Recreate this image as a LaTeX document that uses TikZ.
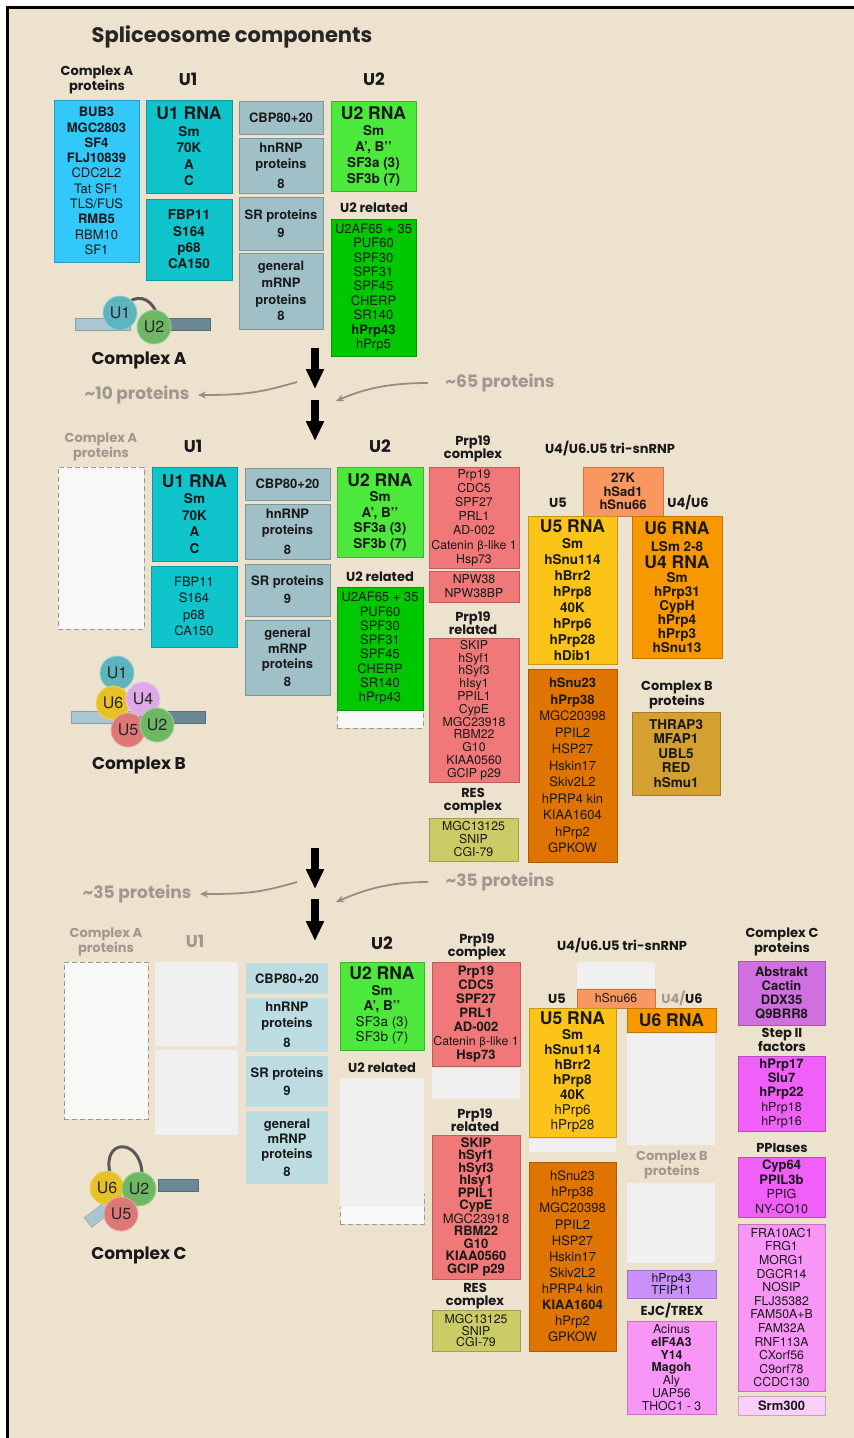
\documentclass[tikz,border=0pt]{standalone}
\usepackage{fontspec}
\setmainfont{TeX Gyre Heros}
\newfontfamily\hf{Poppins}
\newfontfamily\djv{DejaVu Sans}
\usetikzlibrary{arrows.meta}
\definecolor{cbg}{RGB}{236,226,206}
\definecolor{cblue}{RGB}{50,200,250}
\definecolor{cteal}{RGB}{16,196,204}
\definecolor{cgrey}{RGB}{160,192,200}
\definecolor{clblue}{RGB}{188,220,226}
\definecolor{cgreenl}{RGB}{76,232,60}
\definecolor{cgreen}{RGB}{0,200,0}
\definecolor{cred}{RGB}{240,120,120}
\definecolor{cres}{RGB}{204,204,102}
\definecolor{corl}{RGB}{248,152,96}
\definecolor{cu5}{RGB}{252,196,24}
\definecolor{cu6}{RGB}{248,152,0}
\definecolor{cu5r}{RGB}{224,116,0}
\definecolor{ccb}{RGB}{212,160,48}
\definecolor{ccc}{RGB}{208,112,224}
\definecolor{cmag}{RGB}{240,96,248}
\definecolor{cpink}{RGB}{248,150,248}
\definecolor{csrm}{RGB}{250,208,250}
\definecolor{clav}{RGB}{200,144,248}
\definecolor{cempty}{RGB}{240,240,240}
\definecolor{cdash}{RGB}{248,248,246}
\definecolor{cgtxt}{RGB}{160,152,144}
\definecolor{cgarr}{RGB}{150,142,132}
\definecolor{cbarl}{RGB}{170,198,210}
\definecolor{cbard}{RGB}{108,136,150}
\definecolor{cU1}{RGB}{94,180,190}
\definecolor{cU2}{RGB}{110,184,100}
\definecolor{cU4}{RGB}{220,170,232}
\definecolor{cU6}{RGB}{232,192,40}
\definecolor{cU5}{RGB}{222,120,120}
\newcommand\fs[2]{\fontsize{#1}{#2}\selectfont}
\newcommand\md[1]{{\mdseries #1}}
\newcommand\bx[7]{\node[#6, minimum width={#4pt-#2pt}, minimum height={#5pt-#3pt}] (#1) at ({(#2+#4)/2},{(#3+#5)/2}) {#7};}
\begin{document}
\begin{tikzpicture}[x=1pt,y=-1pt,
  bx/.style={draw=#1!78!black, fill=#1, line width=0.7pt, inner xsep=0pt, inner ysep=0pt, outer sep=0pt, align=center, text=black!90},
  bxn/.style={fill=#1, draw=none, inner sep=0pt, outer sep=0pt, align=center, text=black!90},
  dsh/.style={draw=black!40, dash pattern=on 5pt off 3pt, fill=cdash, line width=1pt, inner sep=0pt, outer sep=0pt},
  hd/.style={font=\hf\bfseries\fs{13}{13.5}, align=center, text=black!90},
  hdg/.style={hd, text=cgtxt},
  hdb/.style={font=\hf\bfseries\fs{17}{18}, text=black!90},
  lbl/.style={font=\hf\bfseries\fs{17}{18}, text=black!90},
  gt/.style={font=\hf\bfseries\fs{17}{18}, text=cgtxt},
  garr/.style={draw=cgarr, line width=1.8pt, -{Stealth[length=8pt,width=7pt]}},
  bigarr/.style={draw=black, line width=7.5pt, -{Triangle[length=20pt,width=17pt]}},
  barl/.style={fill=cbarl, draw=cbarl!80!black, line width=0.4pt, minimum height=12pt, inner sep=0pt, outer sep=0pt},
  bard/.style={fill=cbard, draw=cbard!80!black, line width=0.4pt, minimum height=12pt, inner sep=0pt, outer sep=0pt},
  ball/.style={circle, fill=#1, draw=#1!65!white, line width=0.8pt, minimum size=34pt, inner sep=0pt, font=\fs{16}{17}, text=black!85},
  rloop/.style={draw=black!65, line width=3pt}
]
\useasboundingbox (0,0) rectangle (854,1438);
\fill[white] (0,0) rectangle (854,1438);
\fill[cbg] (8,8) rectangle (854,1438);
\draw[line width=2.5pt] (854,7.5) -- (7.5,7.5) -- (7.5,1438);

% ---------------- Section A ----------------
\node[font=\hf\bfseries\fs{21}{22}, text=black!85] (title) at (232,37) {Spliceosome components};
\node[hd] (hA1) at (97,80) {Complex A\\proteins};
\node[hdb] (hU1a) at (188,79) {U1};
\node[hdb] (hU2a) at (374,79) {U2};

\bx{cA}{54}{100}{139}{262}{bx=cblue, font=\fs{13}{15.3}}{\textbf{BUB3}\\\textbf{MGC2803}\\\textbf{SF4}\\\textbf{FLJ10839}\\CDC2L2\\Tat SF1\\TLS/FUS\\\textbf{RMB5}\\RBM10\\SF1}
\bx{u1a}{146}{100}{232}{193}{bx=cteal, font=\bfseries\fs{13.5}{16.5}}{{\fs{17.5}{18}U1 RNA}\\Sm\\70K\\A\\C}
\bx{u1b}{146}{199}{232}{280}{bx=cteal, font=\bfseries\fs{13.5}{16.4}}{FBP11\\S164\\p68\\CA150}
\bx{cbpa}{239}{101}{323}{134}{bx=cgrey, font=\bfseries\fs{13}{14}}{CBP80+20}
\bx{hna}{239}{138}{323}{193}{bx=cgrey, font=\bfseries\fs{13}{16}}{hnRNP\\proteins\\[4pt]8}
\bx{sra}{239}{197}{323}{250}{bx=cgrey, font=\bfseries\fs{13}{18}}{SR proteins\\9}
\bx{gma}{239}{253}{323}{329}{bx=cgrey, font=\bfseries\fs{13}{16.7}}{general\\mRNP\\proteins\\8}
\bx{u2a}{331}{101}{416}{191}{bx=cgreenl, font=\bfseries\fs{13.5}{16}}{{\fs{17.5}{18}U2 RNA}\\Sm\\A', B'{}'\\SF3a (3)\\SF3b (7)}
\node[hd] (hU2ra) at (374,208) {U2 related};
\bx{u2ra}{331}{219}{416}{356}{bx=cgreen, font=\fs{13}{14.4}}{U2AF65 + 35\\PUF60\\SPF30\\SPF31\\SPF45\\CHERP\\SR140\\\textbf{hPrp43}\\hPrp5}

\node[barl, minimum width=55pt] (barA1) at (102.5,324) {};
\node[bard, minimum width=60pt] (barA2) at (180,324) {};
\draw[rloop] (125,305) .. controls (136,294) and (150,297) .. (156,312);
\node[ball=cU1] (bA1) at (120,313) {U1};
\node[ball=cU2] (bA2) at (154,327) {U2};
\node[lbl] (lA) at (139,360) {Complex A};

\coordinate (a1s) at (315,348); \coordinate (a1e) at (315,389);
\draw[bigarr] (a1s) -- (a1e);
\coordinate (a2s) at (315,400); \coordinate (a2e) at (315,441);
\draw[bigarr] (a2s) -- (a2e);

\node[gt] (p10) at (137,395) {\textasciitilde10 proteins};
\coordinate (g1s) at (297,382);
\draw[garr] (g1s) .. controls +(-35,10) and +(50,0) .. ([xshift=5pt]p10.east);
\node[gt] (p65) at (500,383) {\textasciitilde65 proteins};
\coordinate (g2e) at (336,401);
\draw[garr] ([xshift=-14pt]p65.west) .. controls +(-40,0) and +(28,-12) .. (g2e);

% ---------------- Section B ----------------
\node[hdg] (hA2) at (101,447) {Complex A\\proteins};
\node[hdb] (hU1b) at (193,446) {U1};
\node[hdb] (hU2b) at (380,446) {U2};
\node[hd] (hP19b) at (473,449) {Prp19\\complex};
\node[hd] (hTrib) at (610,449) {U4/U6.U5 tri-snRNP};
\node[hd] (hU5b) at (558,503) {U5};
\node[hd] (hU46b) at (688,503) {U4/U6};

\node[dsh, minimum width=86pt, minimum height=162pt] (dA2) at (101,548) {};
\bx{u1c}{152}{467}{237}{561}{bx=cteal, font=\bfseries\fs{13.5}{16.6}}{{\fs{17.5}{18}U1 RNA}\\Sm\\70K\\A\\C}
\bx{u1d}{151}{566}{237}{647}{bx=cteal, font=\fs{13}{16.4}}{FBP11\\S164\\p68\\CA150}
\bx{cbpb}{245}{468}{330}{500}{bx=cgrey, font=\bfseries\fs{13}{14}}{CBP80+20}
\bx{hnb}{245}{504}{330}{559}{bx=cgrey, font=\bfseries\fs{13}{16}}{hnRNP\\proteins\\[4pt]8}
\bx{srb}{245}{564}{330}{616}{bx=cgrey, font=\bfseries\fs{13}{18}}{SR proteins\\9}
\bx{gmb}{245}{620}{330}{695}{bx=cgrey, font=\bfseries\fs{13}{15.5}}{general\\mRNP\\proteins\\[2.5pt]8}
\bx{u2c}{337}{467}{423}{557}{bx=cgreenl, font=\bfseries\fs{13.5}{15.5}}{{\fs{17.5}{18}U2 RNA}\\Sm\\A', B'{}'\\SF3a (3)\\SF3b (7)}
\node[hd] (hU2rb) at (380,577) {U2 related};
\node[dsh, minimum width=86pt, minimum height=28pt] (du2rb) at (380,714) {};
\bx{u2rb}{337}{587}{423}{710}{bx=cgreen, font=\fs{13}{14.3}}{U2AF65 + 35\\PUF60\\SPF30\\SPF31\\SPF45\\CHERP\\SR140\\hPrp43}

\bx{p19b}{429}{467}{519}{568}{bx=cred, font=\fs{12.3}{14.2}}{Prp19\\CDC5\\SPF27\\PRL1\\AD-002\\Catenin {\djv\fs{11}{12}β}-like 1\\Hsp73}
\bx{npwb}{429}{571}{519}{602}{bx=cred, font=\fs{12.3}{14}}{NPW38\\NPW38BP}
\node[hd] (hP19rb) at (473,623) {Prp19\\related};
\bx{p19rb}{429}{638}{519}{782}{bx=cred, font=\fs{12.3}{12.8}}{SKIP\\hSyf1\\hSyf3\\hIsy1\\PPIL1\\CypE\\MGC23918\\RBM22\\G10\\KIAA0560\\GCIP p29}
\node[hd] (hRESb) at (473,801) {RES\\complex};
\bx{resb}{429}{818}{518}{861}{bx=cres, font=\fs{12.3}{13}}{MGC13125\\SNIP\\CGI-79}

\bx{k27b}{583}{467}{663}{516}{bx=corl, font=\bfseries\fs{13}{13.5}}{27K\\hSad1\\hSnu66}
\bx{u5b}{528}{516}{617}{664}{bx=cu5, font=\bfseries\fs{13.5}{16}}{{\fs{17.5}{18}U5 RNA}\\Sm\\hSnu114\\hBrr2\\hPrp8\\40K\\hPrp6\\hPrp28\\hDib1}
\bx{u6b}{632}{516}{722}{658}{bx=cu6, font=\bfseries\fs{13.5}{14}}{{\fs{17.5}{18}U6 RNA}\\[3pt]LSm 2-8\\[3pt]{\fs{17.5}{18}U4 RNA}\\Sm\\hPrp31\\CypH\\hPrp4\\hPrp3\\hSnu13}
\bx{u5rb}{528}{669}{617}{862}{bx=cu5r, font=\fs{13}{16.5}}{\textbf{hSnu23}\\\textbf{hPrp38}\\MGC20398\\PPIL2\\HSP27\\Hskin17\\Skiv2L2\\hPRP4 kin\\KIAA1604\\hPrp2\\GPKOW}
\node[hd] (hCBb) at (677,695) {Complex B\\proteins};
\bx{cbb}{632}{712}{720}{795}{bx=ccb, font=\bfseries\fs{13.5}{14.5}}{THRAP3\\MFAP1\\UBL5\\RED\\hSmu1}

\node[barl, minimum width=62pt] (barB1) at (102,717) {};
\node[bard, minimum width=70pt] (barB2) at (170,717) {};
\node[ball=cU1] (bB1) at (117,673) {U1};
\node[ball=cU6] (bB6) at (113,703) {U6};
\node[ball=cU4] (bB4) at (143,699) {U4};
\node[ball=cU5] (bB5) at (128,730) {U5};
\node[ball=cU2] (bB2) at (157,725) {U2};
\node[lbl] (lB) at (139,765) {Complex B};

\coordinate (a3s) at (315,848); \coordinate (a3e) at (315,889);
\draw[bigarr] (a3s) -- (a3e);
\coordinate (a4s) at (315,899); \coordinate (a4e) at (315,941);
\draw[bigarr] (a4s) -- (a4e);
\node[gt] (p35a) at (137,894) {\textasciitilde35 proteins};
\coordinate (g3s) at (297,882);
\draw[garr] (g3s) .. controls +(-35,10) and +(50,0) .. ([xshift=5pt]p35a.east);
\node[gt] (p35b) at (500,882) {\textasciitilde35 proteins};
\coordinate (g4e) at (336,902);
\draw[garr] ([xshift=-14pt]p35b.west) .. controls +(-40,0) and +(28,-12) .. (g4e);

% ---------------- Section C ----------------
\node[hdg] (hA3) at (106,942) {Complex A\\proteins};
\node[hdb, text=cgtxt] (hU1c) at (195,941) {U1};
\node[hdb] (hU2c) at (382,943) {U2};
\node[hd] (hP19c) at (477,947) {Prp19\\complex};
\node[hd] (hTric) at (622,946) {U4/U6.U5 tri-snRNP};
\node[hd] (hU5c) at (557,999) {U5};
\node[hd] (hU46c) at (682,999) {{\color{cgtxt}U4/}U6};
\node[hd] (hCCc) at (782,942) {Complex C\\proteins};

\node[dsh, minimum width=84pt, minimum height=157pt] (dA3) at (106,1040.5) {};
\bx{e1}{155}{962}{238}{1046}{bxn=cempty}{}
\bx{e2}{155}{1050}{238}{1135}{bxn=cempty}{}
\bx{cbpc}{246}{963}{328}{994}{bxn=clblue, font=\bfseries\fs{13}{14}}{CBP80+20}
\bx{hnc}{246}{998}{328}{1052}{bxn=clblue, font=\bfseries\fs{13}{16}}{hnRNP\\proteins\\[4pt]8}
\bx{src}{246}{1056}{328}{1107}{bxn=clblue, font=\bfseries\fs{13}{18}}{SR proteins\\9}
\bx{gmc}{246}{1111}{328}{1184}{bxn=clblue, font=\bfseries\fs{13}{15}}{general\\mRNP\\proteins\\[3pt]8}
\bx{u2d}{340}{962}{424}{1050}{bx=cgreenl, font=\bfseries\fs{13.5}{15.5}}{{\fs{17.5}{18}U2 RNA}\\Sm\\A', B'{}'\\\md{SF3a (3)}\\\md{SF3b (7)}}
\node[hd] (hU2rc) at (382,1068) {U2 related};
\node[dsh, minimum width=84pt, minimum height=30pt] (du2rc) at (382,1209) {};
\bx{e3}{340}{1078}{424}{1207}{bxn=cempty}{}

\bx{p19c}{432}{962}{520}{1066}{bx=cred, font=\bfseries\fs{13}{14}}{Prp19\\CDC5\\SPF27\\PRL1\\AD-002\\\md{\fs{12.3}{14}Catenin {\djv\fs{11}{12}β}-like 1}\\Hsp73}
\bx{e4}{432}{1068}{520}{1099}{bxn=cempty}{}
\node[hd] (hP19rc) at (475,1120) {Prp19\\related};
\bx{p19rc}{432}{1135}{520}{1279}{bx=cred, font=\bfseries\fs{13}{12.5}}{SKIP\\hSyf1\\hSyf3\\hIsy1\\PPIL1\\CypE\\\md{MGC23918}\\RBM22\\G10\\KIAA0560\\GCIP p29}
\node[hd] (hRESc) at (475,1296) {RES\\complex};
\bx{resc}{432}{1310}{520}{1351}{bx=cres, font=\fs{12.3}{11.7}}{MGC13125\\SNIP\\CGI-79}

\bx{e5}{577}{962}{655}{988}{bxn=cempty}{}
\bx{snu66c}{577}{989}{655}{1008}{bx=corl, font=\fs{12.3}{13}}{hSnu66}
\bx{u5c}{529}{1008}{616}{1137}{bx=cu5, font=\bfseries\fs{13.5}{15}}{{\fs{17.5}{18}U5 RNA}\\Sm\\hSnu114\\hBrr2\\hPrp8\\40K\\\md{hPrp6}\\\md{hPrp28}}
\bx{e6}{529}{1139}{616}{1152}{bxn=cempty}{}
\bx{u6c}{627}{1008}{716}{1032}{bx=cu6, font=\bfseries\fs{17.5}{18}}{U6 RNA}
\bx{e7}{627}{1034}{715}{1145}{bxn=cempty}{}
\node[hdg] (hCBc) at (672,1165) {Complex B\\proteins};
\bx{e8}{627}{1183}{715}{1263}{bxn=cempty}{}
\bx{p43c}{627}{1270}{716}{1298}{bx=clav, font=\fs{12.3}{12.8}}{hPrp43\\TFIP11}
\node[hd] (hEJC) at (672,1311) {EJC/TREX};
\bx{ejc}{627}{1321}{716}{1414}{bx=cpink, font=\fs{12.3}{12.8}}{Acinus\\\textbf{eIF4A3}\\\textbf{Y14}\\\textbf{Magoh}\\Aly\\UAP56\\THOC1 - 3}
\bx{u5rc}{529}{1162}{616}{1351}{bx=cu5r, font=\fs{13}{16.1}}{hSnu23\\hPrp38\\MGC20398\\PPIL2\\HSP27\\Hskin17\\Skiv2L2\\hPRP4 kin\\\textbf{KIAA1604}\\hPrp2\\GPKOW}

\bx{ccc}{738}{961}{825}{1025}{bx=ccc, font=\bfseries\fs{13}{14.3}}{Abstrakt\\Cactin\\DDX35\\Q9BRR8}
\node[hd, font=\hf\bfseries\fs{13}{12.5}] (hS2) at (782,1040) {Step II\\factors};
\bx{s2c}{738}{1056}{825}{1131}{bx=cmag, font=\fs{12.5}{14.2}}{\textbf{\fs{13}{14.2}hPrp17}\\\textbf{\fs{13}{14.2}Slu7}\\\textbf{\fs{13}{14.2}hPrp22}\\hPrp18\\hPrp16}
\node[hd] (hPP) at (782,1148) {PPIases};
\bx{ppc}{738}{1157}{825}{1217}{bx=cmag, font=\fs{12.5}{14.5}}{\textbf{\fs{13}{14.5}Cyp64}\\\textbf{\fs{13}{14.5}PPIL3b}\\PPIG\\NY-CO10}
\bx{misc}{738}{1224}{825}{1391}{bx=cpink, font=\fs{12.3}{13.6}}{FRA10AC1\\FRG1\\MORG1\\DGCR14\\NOSIP\\FLJ35382\\FAM50A+B\\FAM32A\\RNF113A\\CXorf56\\C9orf78\\CCDC130}
\bx{srm}{738}{1396}{825}{1415}{bx=csrm, font=\bfseries\fs{13}{13}}{Srm300}

\node[bard, minimum width=40pt] (barC2) at (178,1185) {};
\node[barl, minimum width=28pt, rotate=38] (barC1) at (99,1214) {};
\draw[rloop] (110,1173) .. controls (102,1138) and (140,1138) .. (142,1173);
\node[ball=cU6] (bC6) at (107,1188) {U6};
\node[ball=cU2] (bC2) at (139,1189) {U2};
\node[ball=cU5] (bC5) at (121,1214) {U5};
\node[lbl] (lC) at (139,1255) {Complex C};
\end{tikzpicture}
\end{document}
